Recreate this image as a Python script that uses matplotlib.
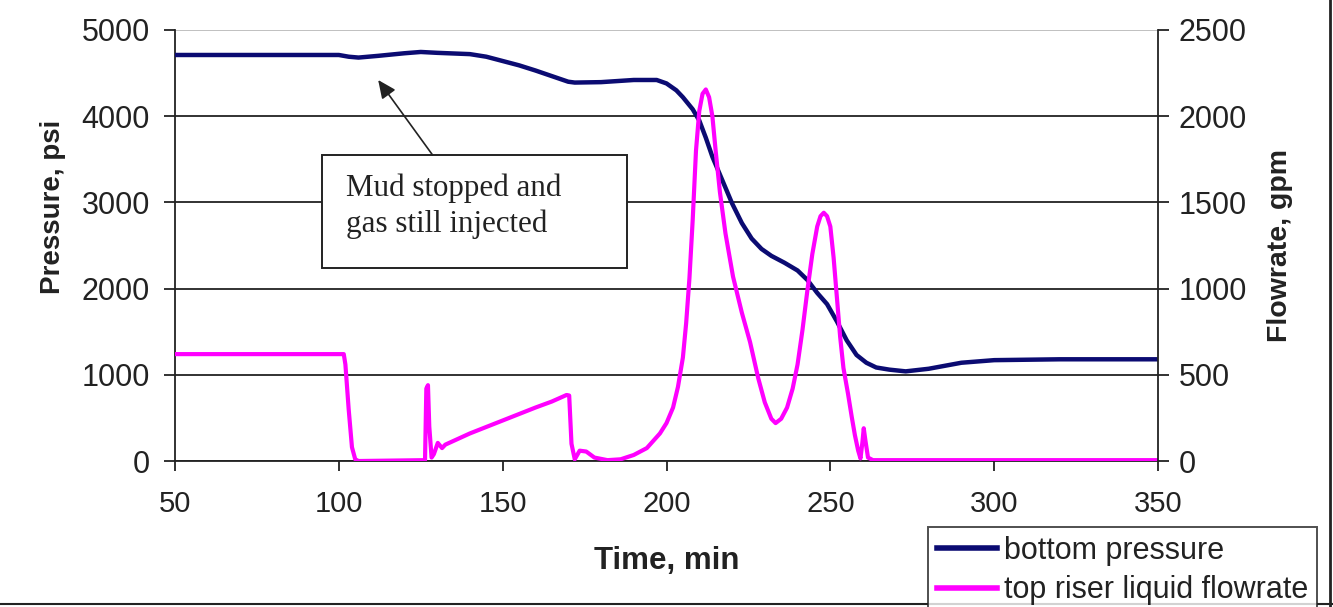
import matplotlib.pyplot as plt
from matplotlib.lines import Line2D
from matplotlib.patches import Rectangle

plt.rcParams['font.family'] = ['Liberation Sans', 'DejaVu Sans']

# bottom pressure, psi
time_p = [50, 100, 103, 106, 112, 120, 125, 130, 140, 145, 150, 155, 160, 165, 170, 172,
          180, 190, 197, 200, 203, 205, 208, 210, 212, 214, 217, 220, 223, 226, 229, 232,
          236, 240, 243, 246, 249, 252, 255, 258, 261, 264, 268, 273, 280, 290, 300, 320, 350]
pressure = [4710, 4710, 4690, 4680, 4700, 4730, 4745, 4735, 4720, 4690, 4640, 4590, 4530,
            4465, 4400, 4390, 4395, 4420, 4420, 4380, 4300, 4220, 4080, 3950, 3750, 3530,
            3260, 2990, 2760, 2580, 2460, 2380, 2300, 2210, 2100, 1950, 1820, 1620, 1400,
            1230, 1140, 1085, 1060, 1040, 1070, 1140, 1170, 1180, 1180]

# top riser liquid flowrate, gpm
time_q = [50, 101.5, 102, 103, 104, 105, 106, 126.3, 126.7, 127.2, 127.6, 128.3, 129, 130.2,
          131.5, 132.5, 140, 150, 160, 165, 169.5, 170.3, 171, 172, 173.5, 175.5, 178, 182,
          186, 190, 194, 198, 200, 202, 203.5, 205, 206, 207, 208, 209, 210, 211, 212, 213,
          214, 215, 216.3, 218, 220.3, 223, 225.5, 228, 230, 232, 233.3, 235, 236.8, 238.5,
          240, 241.5, 243, 244.5, 246, 247, 248, 249, 250, 251, 252, 253, 254, 255.4, 256.5,
          257.5, 258.5, 259.2, 259.8, 260.2, 260.7, 261.5, 263, 270, 350]
flowrate = [620, 620, 560, 300, 80, 10, 0, 5, 420, 440, 200, 20, 40, 105, 75, 95, 160, 235,
            310, 345, 383, 380, 100, 10, 60, 55, 20, 5, 10, 35, 75, 160, 220, 310, 430, 600,
            800, 1060, 1400, 1800, 2030, 2130, 2155, 2110, 2000, 1800, 1560, 1320, 1070, 860,
            690, 480, 340, 245, 220, 245, 310, 420, 560, 760, 990, 1200, 1360, 1420, 1440,
            1420, 1360, 1180, 950, 720, 540, 390, 260, 150, 60, 15, 110, 190, 120, 20, 5, 5, 5]

p_ticks = [0, 1000, 2000, 3000, 4000, 5000]
q_ticks = [0, 500, 1000, 1500, 2000, 2500]
t_ticks = [50, 100, 150, 200, 250, 300, 350]

fig = plt.figure(figsize=(13.33, 6.07), dpi=100)
ax = fig.add_axes([0.1313, 0.2405, 0.7374, 0.7101])
ax2 = ax.twinx()

ax.plot(time_p, pressure, color='#0b0b72', lw=3.2, label='bottom pressure', zorder=3)
ax2.plot(time_q, flowrate, color='#ff00ff', lw=3, label='top riser liquid flowrate')

ax.set_xlim(50, 350)
ax.set_ylim(0, 5000)
ax2.set_ylim(0, 2500)
ax.set_xticks(t_ticks)
ax.set_yticks(p_ticks)
ax2.set_yticks(q_ticks)

ax.grid(axis='y', color='#222222', lw=1.3)
ax.yaxis.get_gridlines()[-1].set_color('#bbbbbb')
ax.set_axisbelow(True)

for a in (ax, ax2):
    a.spines['top'].set_visible(False)
    for s in a.spines.values():
        s.set_color('#222222')
        s.set_linewidth(1.3)
ax.spines['right'].set_visible(False)
ax2.spines['left'].set_visible(False)
ax2.spines['bottom'].set_visible(False)

ax.tick_params(axis='y', direction='out', length=8, width=1.3, labelsize=22, pad=10, colors='#222222')
ax.tick_params(axis='x', direction='out', length=7, width=1.3, labelsize=21, pad=14, colors='#222222')
ax2.tick_params(axis='y', direction='out', length=8, width=1.3, labelsize=22, pad=7, colors='#222222')

ax.set_xlabel('Time, min', fontsize=22.5, fontweight='bold', color='#222222')
ax.set_ylabel('Pressure, psi', fontsize=20, fontweight='bold', color='#222222')
ax2.set_ylabel('Flowrate, gpm', fontsize=20.5, fontweight='bold', color='#222222')
ax.xaxis.set_label_coords(0.5005, -0.198)
ax.yaxis.set_label_coords(-0.111, 0.59)
ax2.yaxis.set_label_coords(1.111, 0.5)

# annotation box
box = Rectangle((0.1495, 0.4478), 0.3103, 0.2622, transform=ax.transAxes,
                facecolor='white', edgecolor='#222222', lw=1.4, zorder=5)
ax.add_patch(box)
ax.text(0.174, 0.5916, 'Mud stopped and\ngas still injected', transform=ax.transAxes,
        family='Liberation Serif', fontsize=22.3, ha='left', va='center',
        linespacing=1.27, color='#222222', zorder=6)
ax.annotate('', xy=(112, 4420), xytext=(0.262, 0.71), textcoords='axes fraction',
            arrowprops=dict(arrowstyle='-|>,head_length=1.1,head_width=0.5',
                            color='#222222', lw=1.2, shrinkA=0, shrinkB=0), zorder=6)

# legend
h1, l1 = ax.get_legend_handles_labels()
h2, l2 = ax2.get_legend_handles_labels()
leg = fig.legend(h1 + h2, l1 + l2, loc='upper left', bbox_to_anchor=(0.696, 0.1318),
                 fontsize=22, frameon=True, fancybox=False, edgecolor='#222222',
                 handlelength=1.95, handletextpad=0.23, labelspacing=0.3,
                 borderpad=0.3, borderaxespad=0)
leg.get_frame().set_linewidth(1.4)
for line in leg.get_lines():
    line.set_linewidth(4)
for t in leg.get_texts():
    t.set_color('#222222')

# chart area border
fig.add_artist(Line2D([1330 / 1333, 1330 / 1333], [0, 1], color='#222222', lw=2))
fig.add_artist(Line2D([0, 1], [3 / 607, 3 / 607], color='#222222', lw=1.5))

fig.savefig('out.png', dpi=100)
